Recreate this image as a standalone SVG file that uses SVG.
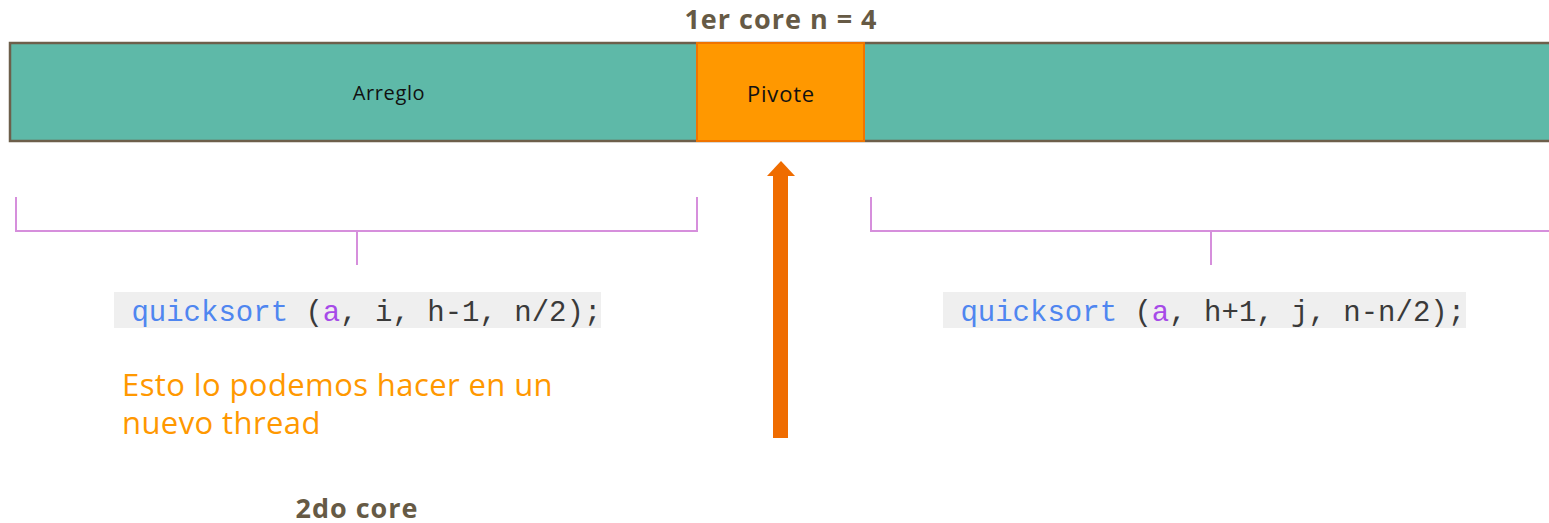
<svg xmlns="http://www.w3.org/2000/svg" width="1549" height="523" viewBox="0 0 1549 523">
<style>
.title{font-family:"Open Sans","Liberation Sans",sans-serif;font-weight:bold;fill:#665a45;font-size:27px;letter-spacing:1px;}
.lbl{font-family:"Open Sans","Liberation Sans",sans-serif;fill:#111;}
.code{font-family:"Liberation Mono","Courier New",monospace;font-size:29px;fill:#3a3a3a;white-space:pre;}
.kw{fill:#4f86f0;}
.var{fill:#a64ae8;}
.brace{fill:none;stroke:#d68fdc;stroke-width:2;}
.note{font-family:"Open Sans","Liberation Sans",sans-serif;font-size:31px;letter-spacing:0.4px;fill:#ff9800;}
</style>
<rect width="1549" height="523" fill="#ffffff"/>
<g id="title"><text class="title" x="781" y="29" text-anchor="middle">1er core n = 4</text></g>
<g id="arreglo">
<rect x="10" y="43" width="1545" height="98" fill="#5eb9a8" stroke="#6d5f4b" stroke-width="2.5"/>
<text class="lbl" x="389" y="100" font-size="20" letter-spacing="0.6" text-anchor="middle">Arreglo</text>
</g>
<g id="pivote">
<rect x="697" y="43" width="167" height="98" fill="#ff9800" stroke="#f07400" stroke-width="2"/>
<text class="lbl" x="781" y="102" font-size="22" letter-spacing="0.8" text-anchor="middle">Pivote</text>
</g>
<g id="connectors">
<path class="brace" d="M16 197 V231 H697 V197 M357 231 V265"/>
<path class="brace" d="M871 197 V231 H1552 M1211 231 V265"/>
<rect x="773" y="176" width="15" height="262" fill="#ef6c00"/>
<polygon points="767,176 781,161 795,176" fill="#ef6c00"/>
</g>
<g id="code-left">
<rect x="114" y="292" width="487" height="36" fill="#efefef"/>
<text class="code" x="114" y="321"> <tspan class="kw">quicksort</tspan> (<tspan class="var">a</tspan>, i, h-1, n/2);</text>
</g>
<g id="code-right">
<rect x="943" y="292" width="523" height="36" fill="#efefef"/>
<text class="code" x="943" y="321"> <tspan class="kw">quicksort</tspan> (<tspan class="var">a</tspan>, h+1, j, n-n/2);</text>
</g>
<g id="note">
<text class="note" x="122" y="396">Esto lo podemos hacer en un<tspan x="122" y="434">nuevo thread</tspan></text>
</g>
<g id="core2"><text class="title" x="357" y="518" text-anchor="middle">2do core</text></g>
</svg>
